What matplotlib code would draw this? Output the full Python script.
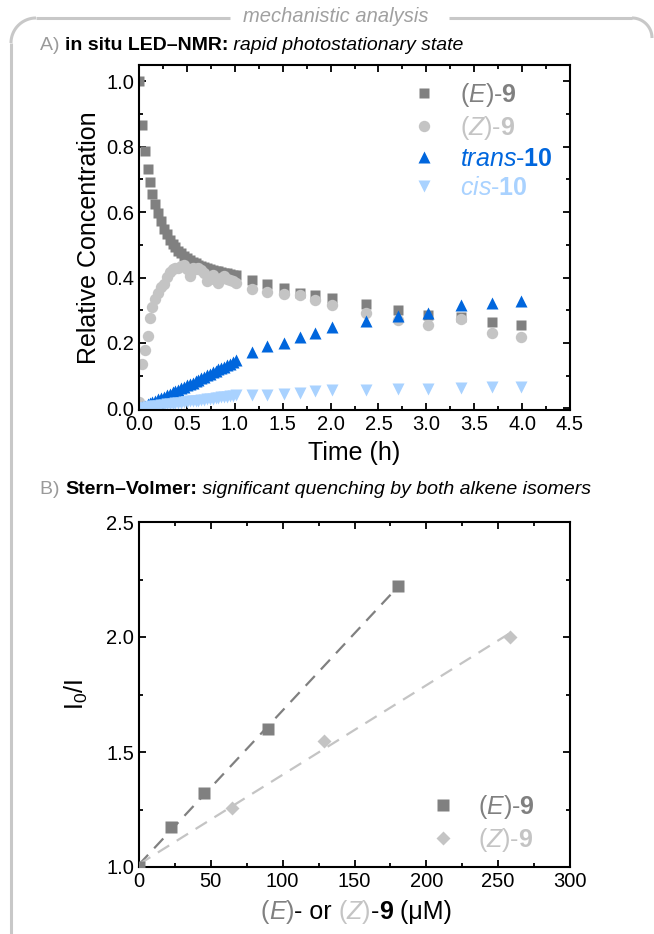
import matplotlib
matplotlib.use('Agg')
import matplotlib.pyplot as plt
import numpy as np
from matplotlib.offsetbox import TextArea, HPacker, AnnotationBbox
from matplotlib.ticker import MultipleLocator, FormatStrFormatter

plt.rcParams['font.family'] = 'Liberation Sans'
plt.rcParams['mathtext.fontset'] = 'custom'
plt.rcParams['mathtext.rm'] = 'Liberation Sans'
plt.rcParams['mathtext.it'] = 'Liberation Sans:italic'
plt.rcParams['mathtext.bf'] = 'Liberation Sans:bold'

# ---- panel A: in situ LED-NMR (time in h, relative concentration)
time_h = [0.00, 0.03, 0.06, 0.09, 0.11, 0.14, 0.17, 0.20, 0.23, 0.26, 0.29, 0.32,
          0.35, 0.38, 0.41, 0.44, 0.47, 0.50, 0.53, 0.56, 0.59, 0.62, 0.65, 0.68,
          0.71, 0.74, 0.77, 0.80, 0.83, 0.86, 0.89, 0.92, 0.95, 0.98, 1.01,
          1.18, 1.34, 1.51, 1.68, 1.84, 2.01, 2.37, 2.70, 3.02, 3.36, 3.69, 3.99]
e9 = [1.000, 0.865, 0.786, 0.731, 0.692, 0.655, 0.626, 0.598, 0.572, 0.550, 0.532, 0.516,
      0.503, 0.492, 0.482, 0.474, 0.466, 0.459, 0.453, 0.448, 0.443, 0.439, 0.435, 0.432,
      0.429, 0.426, 0.424, 0.421, 0.419, 0.417, 0.415, 0.413, 0.411, 0.409, 0.407,
      0.394, 0.381, 0.368, 0.354, 0.348, 0.339, 0.318, 0.302, 0.286, 0.278, 0.263, 0.256]
z9 = [0.020, 0.137, 0.177, 0.222, 0.275, 0.310, 0.335, 0.352, 0.372, 0.380, 0.402, 0.418,
      0.425, 0.428, 0.430, 0.436, 0.438, 0.425, 0.405, 0.428, 0.426, 0.430, 0.424, 0.415,
      0.388, 0.395, 0.408, 0.392, 0.382, 0.398, 0.404, 0.396, 0.392, 0.388, 0.384,
      0.366, 0.356, 0.351, 0.348, 0.332, 0.315, 0.293, 0.271, 0.256, 0.274, 0.230, 0.219]
trans10 = [0.000, 0.004, 0.008, 0.012, 0.016, 0.020, 0.024, 0.028, 0.032, 0.036, 0.040, 0.045,
           0.049, 0.053, 0.057, 0.061, 0.066, 0.070, 0.075, 0.079, 0.083, 0.088, 0.092, 0.097,
           0.101, 0.106, 0.110, 0.114, 0.119, 0.123, 0.128, 0.132, 0.137, 0.141, 0.148,
           0.172, 0.190, 0.201, 0.218, 0.230, 0.249, 0.268, 0.281, 0.293, 0.315, 0.323, 0.327]
cis10 = [0.000, 0.001, 0.002, 0.004, 0.005, 0.006, 0.007, 0.008, 0.009, 0.010, 0.012, 0.013,
         0.014, 0.015, 0.016, 0.017, 0.019, 0.020, 0.021, 0.022, 0.023, 0.024, 0.026, 0.027,
         0.028, 0.029, 0.030, 0.031, 0.033, 0.034, 0.035, 0.036, 0.037, 0.038, 0.040,
         0.042, 0.042, 0.045, 0.046, 0.052, 0.055, 0.057, 0.060, 0.060, 0.062, 0.065, 0.065]

# ---- panel B: Stern-Volmer
conc_e = [0, 22.5, 45, 90, 180]
i0i_e = [1.0, 1.175, 1.32, 1.60, 2.22]
conc_z = [0, 64.5, 129, 258]
i0i_z = [1.0, 1.255, 1.55, 2.0]

C_E = '#808080'
C_Z = '#c4c4c4'
C_TRANS = '#0066dd'
C_CIS = '#a9d2ff'
C_FRAME = '#c8c8c8'

W, H = 654, 934
fig = plt.figure(figsize=(W / 100, H / 100), dpi=100)

# background frame in pixel coords
bg = fig.add_axes([0, 0, 1, 1], zorder=-5)
bg.set_xlim(0, W)
bg.set_ylim(H, 0)
bg.axis('off')
a = np.linspace(0, np.pi / 2, 30)
frame_kw = dict(color=C_FRAME, lw=2.2, solid_capstyle='butt')
bg.plot([11, 11], [43, H], **frame_kw)
bg.plot(36 - 25 * np.cos(a), 43 - 25 * np.sin(a), **frame_kw)
bg.plot([36, 230], [18, 18], **frame_kw)
bg.plot([449, 632], [18, 18], **frame_kw)
bg.plot(632 + 20 * np.sin(a), 38 - 20 * np.cos(a), **frame_kw)
bg.text(336, 16, 'mechanistic analysis', ha='center', va='center', fontsize=14.5,
        style='italic', color='#a0a0a0')


def header(parts, x, y):
    boxes = [TextArea(t, textprops=p) for t, p in parts]
    pack = HPacker(children=boxes, align='baseline', pad=0, sep=0)
    ab = AnnotationBbox(pack, (x, H - y), xycoords='figure pixels', box_alignment=(0, 0.5),
                        frameon=False, pad=0)
    fig.add_artist(ab)


hs = 14
header([('A) ', dict(color='#9a9a9a', fontsize=hs)),
        ('in situ LED–NMR:', dict(color='black', fontsize=hs, weight='bold')),
        (' rapid photostationary state', dict(color='black', fontsize=hs, style='italic'))],
       40, 45)
header([('B) ', dict(color='#9a9a9a', fontsize=hs)),
        ('Stern–Volmer:', dict(color='black', fontsize=hs, weight='bold')),
        (' significant quenching by both alkene isomers', dict(color='black', fontsize=hs, style='italic'))],
       40, 489)


def style_axes(ax):
    for s in ax.spines.values():
        s.set_linewidth(1.5)
    ax.tick_params(which='both', direction='in', top=True, right=True, width=1.3, labelsize=14.5)
    ax.tick_params(which='major', length=5)
    ax.tick_params(which='minor', length=3)


# ---- panel A
axA = fig.add_axes([139 / W, 1 - 410 / H, 431 / W, 345 / H])
ms = 7.5
axA.plot(time_h, e9, 's', color=C_E, ms=ms, mec='none', label=r'($\mathit{E}$)-$\mathbf{9}$')
axA.plot(time_h, z9, 'o', color=C_Z, ms=ms + 0.7, mec='none', label=r'($\mathit{Z}$)-$\mathbf{9}$')
axA.plot(time_h, trans10, '^', color=C_TRANS, ms=ms + 1.8, mec='none',
         label=r'$\mathit{trans}$-$\mathbf{10}$')
axA.plot(time_h, cis10, 'v', color=C_CIS, ms=ms + 1.8, mec='none',
         label=r'$\mathit{cis}$-$\mathbf{10}$')
axA.set_xlim(0, 4.5)
axA.set_ylim(-0.005, 1.05)
axA.xaxis.set_major_locator(MultipleLocator(0.5))
axA.xaxis.set_minor_locator(MultipleLocator(0.25))
axA.yaxis.set_major_locator(MultipleLocator(0.2))
axA.yaxis.set_minor_locator(MultipleLocator(0.1))
axA.xaxis.set_major_formatter(FormatStrFormatter('%.1f'))
axA.yaxis.set_major_formatter(FormatStrFormatter('%.1f'))
style_axes(axA)
axA.set_xlabel('Time (h)', fontsize=18, labelpad=5)
axA.set_ylabel('Relative Concentration', fontsize=18, labelpad=4)
legA = axA.legend(loc='upper left', bbox_to_anchor=(0.632, 0.955), frameon=False, fontsize=18,
                  handlelength=1.0, handletextpad=0.95, borderpad=0, borderaxespad=0,
                  labelspacing=0.2)
for txt, c in zip(legA.get_texts(), [C_E, C_Z, C_TRANS, C_CIS]):
    txt.set_color(c)

# ---- panel B
axB = fig.add_axes([139 / W, 1 - 867 / H, 431 / W, 345 / H])
fit_e = np.polyfit(conc_e, i0i_e, 1)
fit_z = np.polyfit(conc_z, i0i_z, 1)
xe = np.array([0, max(conc_e)])
xz = np.array([0, max(conc_z)])
axB.plot(xe, np.polyval(fit_e, xe), '--', color=C_E, lw=1.6, dashes=(6, 4), zorder=1)
axB.plot(xz, np.polyval(fit_z, xz), '--', color=C_Z, lw=1.6, dashes=(6, 4), zorder=1)
axB.plot(conc_e, i0i_e, 's', color=C_E, ms=8, mec='none', zorder=3,
         label=r'($\mathit{E}$)-$\mathbf{9}$')
axB.plot(conc_z, i0i_z, 'D', color=C_Z, ms=7.5, mec='none', zorder=2,
         label=r'($\mathit{Z}$)-$\mathbf{9}$')
axB.set_xlim(0, 300)
axB.set_ylim(1.0, 2.5)
axB.xaxis.set_major_locator(MultipleLocator(50))
axB.xaxis.set_minor_locator(MultipleLocator(25))
axB.yaxis.set_major_locator(MultipleLocator(0.5))
axB.yaxis.set_minor_locator(MultipleLocator(0.25))
axB.yaxis.set_major_formatter(FormatStrFormatter('%.1f'))
style_axes(axB)
axB.set_ylabel(r'I$_0$/I', fontsize=18, labelpad=12)
legB = axB.legend(loc='upper left', bbox_to_anchor=(0.676, 0.214), frameon=False, fontsize=18,
                  handlelength=1.0, handletextpad=0.9, borderpad=0, borderaxespad=0,
                  labelspacing=0.2)
for txt, c in zip(legB.get_texts(), [C_E, C_Z]):
    txt.set_color(c)

# multi-coloured x label for panel B
xl_parts = [('(', C_E, 'normal', 'normal'), ('E', C_E, 'italic', 'normal'), (')', C_E, 'normal', 'normal'),
            ('- or ', 'black', 'normal', 'normal'),
            ('(', C_Z, 'normal', 'normal'), ('Z', C_Z, 'italic', 'normal'), (')', C_Z, 'normal', 'normal'),
            ('-', 'black', 'normal', 'normal'), ('9', 'black', 'normal', 'bold'),
            (' (μM)', 'black', 'normal', 'normal')]
boxes = [TextArea(t, textprops=dict(color=c, style=st, weight=wt, fontsize=18))
         for t, c, st, wt in xl_parts]
pack = HPacker(children=boxes, align='baseline', pad=0, sep=0)
ab = AnnotationBbox(pack, (356, H - 912), xycoords='figure pixels', box_alignment=(0.5, 0.5),
                    frameon=False, pad=0)
fig.add_artist(ab)

fig.savefig('out.png', dpi=100)
